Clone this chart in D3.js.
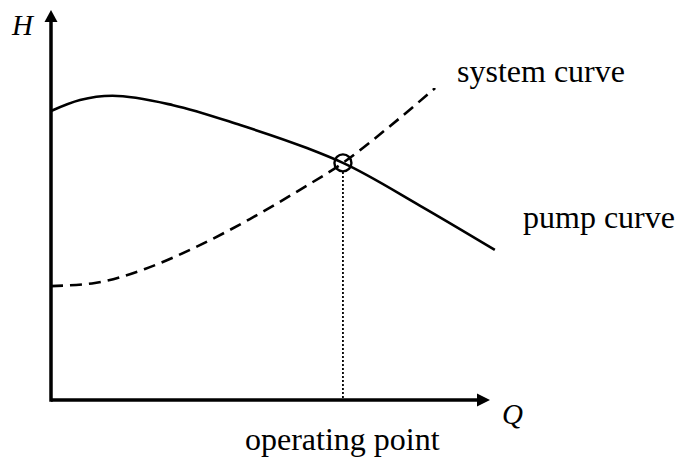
<!DOCTYPE html>
<html>
<head>
<meta charset="utf-8">
<script src="https://cdn.jsdelivr.net/npm/d3@7"></script>
<style>
  body { margin: 0; background: #fff; }
  text { font-family: "Liberation Serif", "Times New Roman", serif; fill: #000; }
</style>
</head>
<body>
<div id="chart"></div>
<script>
// svg dimensions
let svgWidth = 683,
  svgHeight = 468;

// pump curve (Q, H)
let pumpQ = [0, 6.6, 14, 27.8, 43.1, 58.3, 66.5, 84.1, 101.1];
let pumpH = [74.1, 76.9, 78, 75.6, 70.5, 64.6, 60.8, 49.8, 38.5];

// system curve (Q, H)
let systemQ = [0, 10, 21.4, 32.8, 45.3, 56.7, 66.5, 77.2, 87.5];
let systemH = [29.2, 30.0, 33.6, 39.1, 46.4, 53.9, 60.8, 70.2, 80.0];

// operating point
let opQ = 66.5,
  opH = 60.8;

// scales (axis arrows sit at Q = 100, H = 100)
let xScale = d3.scaleLinear().domain([0, 100]).range([51, 490]);
let yScale = d3.scaleLinear().domain([0, 100]).range([400, 10]);

let svg = d3
  .select("#chart")
  .append("svg")
  .attr("width", svgWidth)
  .attr("height", svgHeight);

let lineGen = d3
  .line()
  .x((d) => xScale(d[0]))
  .y((d) => yScale(d[1]))
  .curve(d3.curveMonotoneX);

let pumpData = pumpQ.map((q, i) => [q, pumpH[i]]);
let systemData = systemQ.map((q, i) => [q, systemH[i]]);

// dotted drop line from operating point to Q axis
svg
  .append("line")
  .attr("x1", xScale(opQ))
  .attr("x2", xScale(opQ))
  .attr("y1", yScale(opH) + 9)
  .attr("y2", yScale(0))
  .attr("stroke", "#000")
  .attr("stroke-width", 1.8)
  .attr("stroke-dasharray", "2,2");

// system curve (dashed)
svg
  .append("path")
  .datum(systemData)
  .attr("d", lineGen)
  .attr("fill", "none")
  .attr("stroke", "#000")
  .attr("stroke-width", 2.6)
  .attr("stroke-dasharray", "12,7");

// pump curve
svg
  .append("path")
  .datum(pumpData)
  .attr("d", lineGen)
  .attr("fill", "none")
  .attr("stroke", "#000")
  .attr("stroke-width", 2.6);

// operating point circle
svg
  .append("circle")
  .attr("cx", xScale(opQ))
  .attr("cy", yScale(opH))
  .attr("r", 8.5)
  .attr("fill", "none")
  .attr("stroke", "#000")
  .attr("stroke-width", 2.4);

// axes
let x0 = xScale(0),
  y0 = yScale(0),
  xEnd = xScale(100),
  yEnd = yScale(100);

svg
  .append("line")
  .attr("x1", x0)
  .attr("y1", y0)
  .attr("x2", xEnd - 12)
  .attr("y2", y0)
  .attr("stroke", "#000")
  .attr("stroke-width", 3.5);

svg
  .append("polygon")
  .attr("points", `${xEnd},${y0} ${xEnd - 13},${y0 - 6.5} ${xEnd - 13},${y0 + 6.5}`)
  .attr("fill", "#000");

svg
  .append("line")
  .attr("x1", x0)
  .attr("y1", y0 + 1.75)
  .attr("x2", x0)
  .attr("y2", yEnd + 10)
  .attr("stroke", "#000")
  .attr("stroke-width", 3.5);

svg
  .append("polygon")
  .attr("points", `${x0},${yEnd} ${x0 - 6.5},${yEnd + 12} ${x0 + 6.5},${yEnd + 12}`)
  .attr("fill", "#000");

// axis labels
svg
  .append("text")
  .attr("x", 12)
  .attr("y", 35)
  .attr("font-size", "29px")
  .attr("font-style", "italic")
  .text("H");

svg
  .append("text")
  .attr("x", 502)
  .attr("y", 424)
  .attr("font-size", "29px")
  .attr("font-style", "italic")
  .text("Q");

// curve labels
svg
  .append("text")
  .attr("x", 457)
  .attr("y", 82)
  .attr("font-size", "32px")
  .text("system curve");

svg
  .append("text")
  .attr("x", 523)
  .attr("y", 228)
  .attr("font-size", "32px")
  .text("pump curve");

svg
  .append("text")
  .attr("x", 245)
  .attr("y", 450)
  .attr("font-size", "32px")
  .text("operating point");
</script>
</body>
</html>
